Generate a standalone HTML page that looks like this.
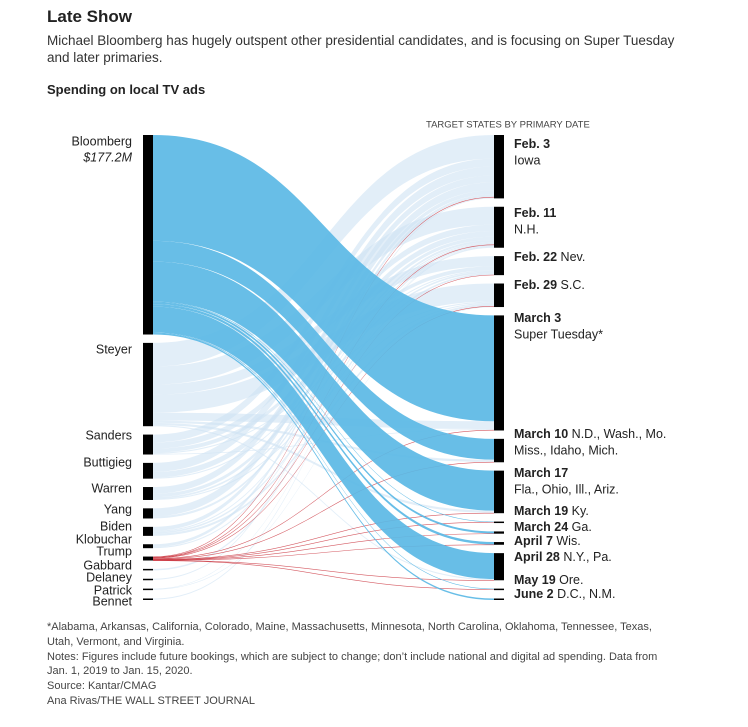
<!DOCTYPE html>
<html><head><meta charset="utf-8"><style>
body{margin:0;background:#fff;font-family:"Liberation Sans",sans-serif;color:#222}
.t{position:absolute;white-space:nowrap}
</style></head><body>
<div style="position:relative;width:748px;height:727px;overflow:hidden">
<div class="t" style="left:47px;top:7px;font-size:17px;font-weight:bold">Late Show</div>
<div class="t" style="left:47px;top:32px;font-size:13.5px;line-height:17px;color:#333">Michael Bloomberg has hugely outspent other presidential candidates, and is focusing on Super Tuesday<br>and later primaries.</div>
<div class="t" style="left:47px;top:82px;font-size:13px;font-weight:bold">Spending on local TV ads</div>
<svg id="c" width="748" height="727" style="position:absolute;left:0;top:0"></svg>
<div class="t" style="left:47px;top:620px;font-size:11px;line-height:14.8px;color:#444">*Alabama, Arkansas, California, Colorado, Maine, Massachusetts, Minnesota, North Carolina, Oklahoma, Tennessee, Texas,<br>Utah, Vermont, and Virginia.<br>Notes: Figures include future bookings, which are subject to change; don’t include national and digital ad spending. Data from<br>Jan. 1, 2019 to Jan. 15, 2020.<br>Source: Kantar/CMAG<br>Ana Rivas/THE WALL STREET JOURNAL</div>
</div>
<script>
const candidates=["Bloomberg","Steyer","Sanders","Buttigieg","Warren","Yang","Biden","Klobuchar","Trump","Gabbard","Delaney","Patrick","Bennet"];
const dates=["Feb. 3","Feb. 11","Feb. 22","Feb. 29","March 3","March 10","March 17","March 19","March 24","April 7","April 28","May 19","June 2"];
const dateStates=["|Iowa","|N.H.","Nev.","S.C.","|Super Tuesday*","N.D., Wash., Mo.|Miss., Idaho, Mich.","|Fla., Ohio, Ill., Ariz.","Ky.","Ga.","Wis.","N.Y., Pa.","Ore.","D.C., N.M."];
const flowSource=[0,0,0,0,0,0,0,0,0, 1,1,1,1,1,1,1,1, 2,2,2,2,2, 3,3,3, 4,4,4,4, 5,5, 6,6,6,6, 7,7, 8,8,8,8,8,8,8,8,8,8,8,8, 9,10,11,11,12];
const flowTarget=[4,5,6,7,8,9,10,11,12, 0,1,2,3,4,5,6,10, 0,1,2,3,4, 0,1,2, 0,1,2,3, 0,1, 0,1,2,3, 0,1, 0,1,2,3,4,5,6,7,8,9,10,11, 1,0,1,3,1];
const flowValue=[94,18.5,35.5,0.4,1.8,2.2,23,0.5,1.3, 21,16,9,16,7,2,2,1, 7,5.5,3.5,1,0.7, 8,5,1, 6,3,1.5,1, 7,2, 3.5,1,1.5,2, 2.5,1, 0.4,0.3,0.4,0.4,0.5,0.3,0.3,0.2,0.2,0.2,0.1,0.2, 1.3,0.9,0.4,0.5,0.9];
const leftLabelY=[142,350,436,463,489,510,527,540,552,566,578,591,602];
const rightLabelY=[145,214,258,286,319,435,474,512,528,542,558,581,595];

const svg=document.getElementById('c');const NS='http://www.w3.org/2000/svg';
const top0=135,bot0=600,xL=143,xR=494,nw=10,minH=1.5;
function layout(n,key){const tot=new Array(n).fill(0);flowValue.forEach((v,i)=>tot[key[i]]+=v);return tot;}
const lt=layout(candidates.length,flowSource),rt=layout(dates.length,flowTarget);
const total=Math.max(lt.reduce((a,b)=>a+b),rt.reduce((a,b)=>a+b));
const k=(bot0-top0-12*8.5)/total;
function pos(tot){const gap=(bot0-top0-tot.reduce((a,b)=>a+Math.max(b*k,minH),0))/(tot.length-1);let y=top0;return tot.map(t=>{const h=Math.max(t*k,minH);const r={y,h};y+=h+gap;return r;});}
const lp=pos(lt),rp=pos(rt);
const lOff=lp.map(p=>p.y),rOff=rp.map(p=>p.y);
const order=flowValue.map((v,i)=>i).sort((a,b)=>flowSource[a]-flowSource[b]||flowTarget[a]-flowTarget[b]);
const sy={},ty={};
order.forEach(i=>{sy[i]=lOff[flowSource[i]];lOff[flowSource[i]]+=flowValue[i]*k;});
flowValue.map((v,i)=>i).sort((a,b)=>flowTarget[a]-flowTarget[b]||flowSource[a]-flowSource[b]).forEach(i=>{ty[i]=rOff[flowTarget[i]];rOff[flowTarget[i]]+=flowValue[i]*k;});
const draw=[...order].sort((a,b)=>(flowSource[a]===0)-(flowSource[b]===0)||(flowSource[a]===8)-(flowSource[b]===8));
draw.forEach(i=>{const s=flowSource[i],h=Math.max(flowValue[i]*k,0.6),x0=xL+nw,x1=xR,xm=(x0+x1)/2;
 const y0=sy[i],y1=ty[i];const p=document.createElementNS(NS,'path');
 p.setAttribute('d',`M${x0},${y0}C${xm},${y0} ${xm},${y1} ${x1},${y1}L${x1},${y1+h}C${xm},${y1+h} ${xm},${y0+h} ${x0},${y0+h}Z`);
 p.setAttribute('fill',s===0?'#5bb9e5':s===8?'#c9303a':'#cfe3f4');
 p.setAttribute('fill-opacity',s===0?'0.92':s===8?'0.8':'0.6');
 
 
 svg.appendChild(p);});
function rect(x,p,name){const r=document.createElementNS(NS,'rect');r.setAttribute('x',x);r.setAttribute('y',p.y);r.setAttribute('width',nw);r.setAttribute('height',p.h);r.setAttribute('fill','#000');
 
 
 svg.appendChild(r);}
function text(x,y,str,opt){const t=document.createElementNS(NS,'text');t.setAttribute('x',x);t.setAttribute('y',y);t.setAttribute('font-size',opt.size||12.5);t.setAttribute('fill',opt.fill||'#222');
 if(opt.anchor)t.setAttribute('text-anchor',opt.anchor);if(opt.bold)t.setAttribute('font-weight','bold');if(opt.italic)t.setAttribute('font-style','italic');
 t.setAttribute('dominant-baseline','middle');t.textContent=str;
 
 
 svg.appendChild(t);return t;}
candidates.forEach((c,i)=>{rect(xL,lp[i],'node-'+c.toLowerCase());text(132,leftLabelY[i],c,{anchor:'end',name:'label-'+c.toLowerCase()});});
text(132,158,'$'+lt[0].toFixed(1)+'M',{anchor:'end',italic:true,name:'bloomberg-total'});
text(426,125,'TARGET STATES BY PRIMARY DATE',{size:9.5,fill:'#444',name:'right-axis-header'});
dates.forEach((d,i)=>{const slug=d.toLowerCase().replace(/[ .]+/g,'-');rect(xR,rp[i],'node-'+slug);
 const y=rightLabelY[i];
 const t=text(514,y,'',{name:'label-'+slug});
 const b=document.createElementNS(NS,'tspan');b.setAttribute('font-weight','bold');b.textContent=d;t.appendChild(b);
 const parts=dateStates[i].split('|');
 if(parts[0]){const s=document.createElementNS(NS,'tspan');s.textContent=' '+parts[0];t.appendChild(s);}
 if(parts[1])text(514,y+16,parts[1],{name:'states-'+slug});
});
</script>
</body></html>
